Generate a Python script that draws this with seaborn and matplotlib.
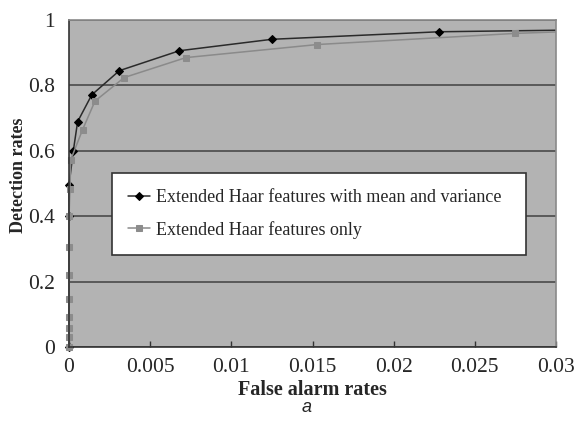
import numpy as np
import pandas as pd
import matplotlib
matplotlib.use("Agg")
import matplotlib.pyplot as plt
from matplotlib.patches import Rectangle
from matplotlib.ticker import FuncFormatter, MultipleLocator
import seaborn as sns

# data
fa_mean_var = [0.0, 0.0, 0.0, 0.00026, 0.00053, 0.0014, 0.0031, 0.0068, 0.0125, 0.0228, 0.032]
dr_mean_var = [0.0, 0.40, 0.495, 0.598, 0.689, 0.771, 0.845, 0.906, 0.941, 0.964, 0.970]

fa_haar = [0.0, 0.0, 0.0, 0.0, 0.0, 0.0, 0.0, 0.0, 0.00006, 0.0001, 0.00084, 0.0016,
           0.0034, 0.0072, 0.0153, 0.0275, 0.032]
dr_haar = [0.0, 0.03, 0.058, 0.092, 0.148, 0.22, 0.305, 0.40, 0.483, 0.572, 0.665, 0.752,
           0.824, 0.885, 0.925, 0.959, 0.967]

label_mean_var = "Extended Haar features with mean and variance"
label_haar = "Extended Haar features only"

sns.set_style("ticks")
plt.rcParams['font.family'] = ['Liberation Serif', 'DejaVu Serif']
plt.rcParams['font.size'] = 13

fig = plt.figure(figsize=(5.77, 4.21), dpi=100)
ax = fig.add_axes([0.1196, 0.1758, 0.8440, 0.7767])
ax.set_facecolor('#b3b3b3')

sns.lineplot(x=fa_mean_var, y=dr_mean_var, ax=ax, sort=False, estimator=None,
             color='#2a2a2a', lw=1.1, marker='D', markersize=4.5,
             markerfacecolor='black', markeredgecolor='black', label=label_mean_var)
sns.lineplot(x=fa_haar, y=dr_haar, ax=ax, sort=False, estimator=None,
             color='#8a8a8a', lw=1.1, marker='s', markersize=5,
             markerfacecolor='#8c8c8c', markeredgecolor='#8c8c8c', label=label_haar)

# let the markers sitting on the y axis show in full
for line in ax.lines:
    line.set_clip_path(Rectangle((-0.03, -0.03), 1.03, 1.06, transform=ax.transAxes))

ax.set_xlim(0, 0.03)
ax.set_ylim(0, 1)
ax.xaxis.set_major_locator(MultipleLocator(0.005))
ax.yaxis.set_major_locator(MultipleLocator(0.2))
fmt = FuncFormatter(lambda v, p: '%g' % round(v, 4))
ax.xaxis.set_major_formatter(fmt)
ax.yaxis.set_major_formatter(fmt)

ax.grid(axis='y', color='#4a4a4a', lw=1.2)
ax.grid(axis='x', visible=False)
ax.set_axisbelow(True)
ax.tick_params(axis='x', direction='in', length=4, width=1, color='#333333',
               pad=8, labelsize=15.5)
ax.tick_params(axis='y', length=0, pad=10, labelsize=15.5)

for side in ['left', 'bottom']:
    ax.spines[side].set_color('#333333')
    ax.spines[side].set_linewidth(1.2)
for side in ['top', 'right']:
    ax.spines[side].set_visible(True)
    ax.spines[side].set_color('#8a8a8a')
    ax.spines[side].set_linewidth(1.2)

ax.set_xlabel("False alarm rates", fontsize=14.5, fontweight='bold', labelpad=2)
ax.set_ylabel("Detection rates", fontsize=13, fontweight='bold')
ax.yaxis.set_label_coords(-0.086, 0.526)

leg = ax.legend(loc='center', bbox_to_anchor=(0.088, 0.278, 0.85, 0.257),
                mode='expand', fancybox=False, framealpha=1, fontsize=13,
                handlelength=1.2, handletextpad=0.35, borderpad=0.9,
                labelspacing=0.8, borderaxespad=0)
leg.get_frame().set_edgecolor('#333333')
leg.get_frame().set_linewidth(1.2)

fig.text(0.531, 0.012, "a", fontsize=13, style='italic',
         family=['Liberation Sans', 'DejaVu Sans'], ha='center', va='bottom')

fig.savefig("out.png", dpi=100)
